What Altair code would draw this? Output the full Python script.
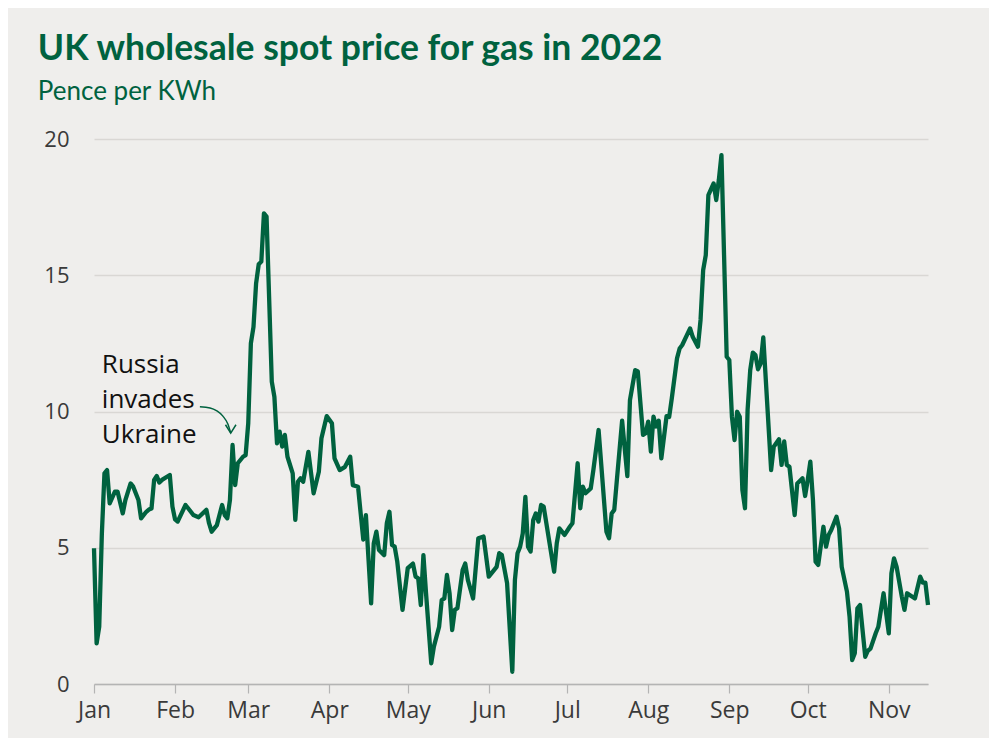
import altair as alt
import pandas as pd

# ---- data (day offset from 1 Jan 2022, pence per kWh) ----
days = [0, 1, 2, 3, 4, 5, 6, 8, 9, 11, 12, 14, 15, 17, 18, 20, 21, 22, 23, 24, 25, 26,
        29, 30, 31, 32, 35, 36, 38, 40, 43, 44, 45, 47, 49, 50, 51, 52, 53, 54, 55, 57,
        58, 59, 60, 61, 62, 63, 64, 65, 66, 68, 69, 70, 71, 72, 73, 74, 76, 77, 78, 79,
        80, 82, 84, 86, 87, 89, 91, 92, 94, 96, 98, 99, 101, 102, 103, 104, 106, 107, 108,
        109, 111, 112, 113, 114, 115, 116, 118, 120, 122, 123, 124, 125, 126, 127, 129,
        130, 132, 133, 134, 135, 136, 137, 138, 139, 141, 142, 143, 145, 147, 149, 151,
        153, 154, 155, 156, 158, 160, 161, 162, 163, 164, 165, 166, 167, 168, 169, 170,
        171, 172, 176, 177, 178, 180, 182, 183, 185, 186, 187, 188, 190, 191, 193, 196,
        197, 198, 199, 200, 202, 204, 205, 207, 208, 210, 211, 212, 213, 214, 215, 216,
        217, 219, 220, 221, 223, 224, 225, 228, 229, 231, 232, 233, 234, 235, 237, 238,
        239, 240, 242, 243, 244, 245, 246, 247, 248, 249, 250, 251, 252, 253, 254, 255,
        256, 259, 260, 262, 263, 264, 265, 266, 268, 269, 271, 272, 273, 274, 275, 276,
        277, 279, 280, 281, 282, 284, 285, 286, 288, 289, 290, 291, 292, 293, 295, 296,
        297, 299, 300, 302, 304, 305, 306, 307, 309, 310, 311, 313, 314, 316, 317, 318, 319]
prices = [4.98, 1.49, 2.1, 5.5, 7.73, 7.85, 6.63, 7.06, 7.06, 6.26, 6.75, 7.36, 7.24, 6.75,
          6.08, 6.32, 6.4, 6.44, 7.49, 7.63, 7.39, 7.49, 7.67, 6.51, 6.04, 5.96, 6.57, 6.45,
          6.2, 6.12, 6.39, 5.9, 5.59, 5.83, 6.57, 6.2, 6.08, 6.75, 8.77, 7.3, 8.1, 8.34,
          8.4, 9.57, 12.5, 13.1, 14.7, 15.4, 15.5, 17.27, 17.15, 11.1, 10.54, 8.83, 9.26,
          8.71, 9.14, 8.34, 7.73, 6.02, 7.42, 7.55, 7.42, 8.52, 7.0, 7.79, 9.02, 9.83, 9.57,
          8.28, 7.85, 7.97, 8.34, 7.3, 7.24, 6.26, 5.3, 6.2, 2.96, 5.16, 5.59, 4.92, 4.73,
          5.9, 6.32, 5.1, 5.04, 4.49, 2.72, 4.25, 4.42, 3.94, 3.88, 2.9, 4.73, 3.33, 0.76,
          1.37, 2.1, 3.08, 3.14, 4.0, 3.33, 1.98, 2.72, 2.78, 4.18, 4.42, 3.82, 3.14, 5.35,
          5.41, 3.94, 4.18, 4.3, 4.8, 4.73, 3.7, 0.45, 3.82, 4.8, 5.04, 5.53, 6.87, 5.04,
          4.86, 6.02, 6.26, 5.96, 6.57, 6.51, 4.12, 5.16, 5.71, 5.47, 5.77, 5.9, 8.1, 6.45,
          7.24, 7.0, 7.18, 7.85, 9.32, 5.59, 5.35, 6.26, 6.39, 7.49, 9.66, 7.63, 10.42,
          11.52, 11.47, 9.14, 9.2, 9.63, 8.53, 9.81, 9.45, 9.66, 8.28, 9.83, 9.8, 10.48,
          11.95, 12.31, 12.44, 13.05, 12.74, 12.38, 13.36, 15.19, 15.74, 17.94, 18.37,
          17.76, 18.5, 19.41, 12.01, 11.89, 9.81, 8.95, 9.99, 9.81, 7.12, 6.45, 10.06,
          11.52, 12.16, 12.07, 11.55, 11.77, 12.72, 7.85, 8.71, 8.98, 8.04, 8.9, 8.04,
          7.97, 6.2, 7.36, 7.55, 6.9, 7.49, 8.16, 6.75, 4.49, 4.37, 5.77, 5.04, 5.47, 5.65,
          6.14, 5.71, 4.3, 3.39, 2.47, 0.88, 1.13, 2.78, 2.9, 1.0, 1.22, 1.3, 1.86, 2.1,
          3.33, 1.86, 4.06, 4.61, 4.3, 3.2, 2.72, 3.33, 3.2, 3.14, 3.94, 3.72, 3.72, 2.9]

month_starts = [1, 2, 3, 4, 5, 6, 7, 8, 9, 10, 11]
y_ticks = [0, 5, 10, 15, 20]

note_lines = ["Russia", "invades", "Ukraine"]
note_day = [3]
note_value = [11.4]
arrow_days = [40.5, 44.4, 47.0, 49.3, 51.2, 52.3]
arrow_values = [10.17, 10.13, 10.02, 9.83, 9.54, 9.21]
arrow_head_day = [52.3]
arrow_head_value = [9.36]

GREEN = "#00623f"
START = pd.Timestamp("2022-01-01")


def to_dates(offsets):
    return START + pd.to_timedelta(offsets, unit="D")


df = pd.DataFrame({"date": to_dates(days), "price": prices})
note_df = pd.DataFrame({"date": to_dates(note_day), "v": note_value, "t": [note_lines]})
arrow_df = pd.DataFrame({"date": to_dates(arrow_days), "v": arrow_values})
head_df = pd.DataFrame({"date": to_dates(arrow_head_day), "v": arrow_head_value})

x_scale = alt.Scale(domain=[alt.DateTime(year=2022, month=1, date=1),
                            alt.DateTime(year=2022, month=11, date=16)])
y_scale = alt.Scale(domain=[0, 20], nice=False)

x_axis = alt.Axis(
    title=None, format="%b", grid=False, labelFlush=False,
    values=[alt.DateTime(year=2022, month=m, date=1) for m in month_starts],
    labelFont="Open Sans", labelFontSize=23, labelColor="#3a3a3a",
    labelPadding=6, tickSize=9, tickColor="#b4b4b4", tickWidth=1.2,
    domainColor="#b4b4b4", domainWidth=1.5,
)
y_axis = alt.Axis(
    title=None, values=y_ticks, domain=False, ticks=False,
    labelFont="Open Sans", labelFontSize=22, labelColor="#3a3a3a",
    labelPadding=25, gridColor="#d9d7d4", gridWidth=1.5,
)

line = alt.Chart(df).mark_line(color=GREEN, strokeWidth=4.3, strokeJoin="round").encode(
    x=alt.X("date:T", scale=x_scale, axis=x_axis),
    y=alt.Y("price:Q", scale=y_scale, axis=y_axis),
)

note = alt.Chart(note_df).mark_text(
    align="left", baseline="alphabetic", font="Open Sans", fontSize=26,
    lineHeight=35, color="#111111",
).encode(x="date:T", y="v:Q", text="t")

arrow = alt.Chart(arrow_df).mark_line(
    color=GREEN, strokeWidth=1.5, interpolate="monotone"
).encode(x="date:T", y="v:Q")

head = alt.Chart(head_df).mark_point(
    shape="M-1,-0.8L0,0.8L1,-0.8", filled=False, color=GREEN,
    strokeWidth=1.5, size=110, opacity=1,
).encode(x="date:T", y="v:Q")

chart = alt.layer(line, arrow, head, note).properties(
    width=834, height=545,
    autosize=alt.AutoSizeParams(type="none"),
    padding={"left": 86, "top": 131, "right": 61, "bottom": 54},
    background="#efeeec",
    title=alt.Title(
        text="UK wholesale spot price for gas in 2022",
        subtitle="Pence per KWh",
        anchor="start", frame="bounds",
        font="Lato", fontSize=35.5, fontWeight="bold", color=GREEN,
        subtitleFont="Lato", subtitleFontSize=26, subtitleColor=GREEN,
        subtitlePadding=12, offset=23, dx=-6,
    ),
).configure_view(stroke=None)

chart.save("out.html", embed_options={"renderer": "svg", "actions": False})
